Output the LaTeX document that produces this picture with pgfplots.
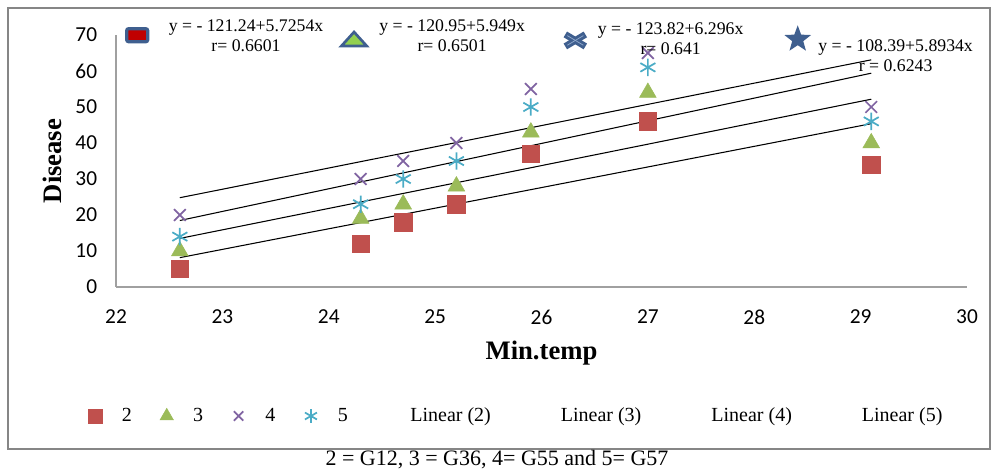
\documentclass[border=0pt]{standalone}
\usepackage{pgfplots}
\pgfplotsset{compat=1.18}
\usepackage{fontspec}
\setmainfont{Liberation Serif}
\newfontfamily\carlito{Carlito}
\usetikzlibrary{shapes.geometric}
\definecolor{c2}{HTML}{C0504D}
\definecolor{c3}{HTML}{9BBB59}
\definecolor{c4}{HTML}{8064A2}
\definecolor{c5}{HTML}{4BACC6}
\definecolor{iconblue}{HTML}{3F5F8F}
\definecolor{iconlight}{HTML}{8FA8CC}
\definecolor{iconred}{HTML}{C00000}
\definecolor{icongreen}{HTML}{92D050}
\definecolor{framegray}{HTML}{868686}
\definecolor{axisgray}{HTML}{A0A0A0}

\pgfplotstableread{
x    s2  s3  s4  s5
22.6  5  10  20  14
24.3 12  19  30  23
24.7 18  23  35  30
25.2 23  28  40  35
25.9 37  43  55  50
27.0 46  54  65  61
29.1 34  40  50  46
}\datatable

\pgfplotsset{
  marklegend/.style={legend image code/.code={%
    \path (0pt,0pt) (30pt,0pt);
    \draw[##1, every mark/.append style={scale=0.8}] plot coordinates {(10.5pt,0pt)};}},
}

\begin{document}
\begin{tikzpicture}
\path (0pt,0pt) rectangle (744.75pt,356.25pt);
\draw[framegray, line width=1.5pt] (6pt,19.5pt) rectangle (742.5pt,350.25pt);

\begin{axis}[
  at={(87pt,141pt)}, anchor=south west,
  scale only axis, width=638.25pt, height=189pt,
  xmin=22, xmax=30, ymin=0, ymax=70,
  xtick={22,23,...,30}, ytick={0,10,...,70},
  axis lines*=left,
  axis line style={axisgray, line width=0.8pt, -},
  major tick length=0pt,
  tick label style={font=\carlito\fontsize{16}{16}\selectfont},
  /pgf/number format/assume math mode=true,
  yticklabel style={inner xsep=0pt, xshift=-14pt},
  xticklabel style={inner ysep=0pt, yshift=-17pt},
  xlabel={\bfseries\fontsize{20}{20}\selectfont Min.temp},
  ylabel={\bfseries\fontsize{20}{20}\selectfont Disease},
  xlabel style={at={(axis description cs:0.5,-0.262)}, anchor=center},
  ylabel style={at={(axis description cs:-0.0752,0.5)}, anchor=center},
  clip=false,
  legend columns=8,
  legend cell align=left,
  legend style={draw=none, fill=none, inner sep=0pt, column sep=0pt,
    at={(-0.0411,-0.512)}, anchor=west,
    font=\fontsize{15}{15}\selectfont,
    nodes={inner sep=0pt}},
]
\addplot[only marks, mark=square*, mark size=6.5pt, color=c2, marklegend] table[x=x,y=s2] {\datatable};
\addlegendentry{\makebox[23pt][l]{2}}
\addplot[only marks, mark=triangle*, mark size=7.2pt, color=c3, marklegend] table[x=x,y=s3] {\datatable};
\addlegendentry{\makebox[23pt][l]{3}}
\addplot[only marks, mark=x, mark size=6.2pt, line width=1.3pt, color=c4, marklegend] table[x=x,y=s4] {\datatable};
\addlegendentry{\makebox[23pt][l]{4}}
\addplot[only marks, mark=asterisk, mark size=6.5pt, line width=1.3pt, color=c5, marklegend] table[x=x,y=s5] {\datatable};
\addlegendentry{\makebox[23pt][l]{5}}
\addlegendimage{legend image code/.code={\path (0pt,0pt) (31pt,0pt);}}
\addlegendentry{\makebox[81.5pt][l]{Linear (2)}}
\addlegendimage{legend image code/.code={\path (0pt,0pt) (31pt,0pt);}}
\addlegendentry{\makebox[81.5pt][l]{Linear (3)}}
\addlegendimage{legend image code/.code={\path (0pt,0pt) (31pt,0pt);}}
\addlegendentry{\makebox[81.5pt][l]{Linear (4)}}
\addlegendimage{legend image code/.code={\path (0pt,0pt) (31pt,0pt);}}
\addlegendentry{\makebox[81.5pt][l]{Linear (5)}}
% trend lines
\addplot[black, line width=0.8pt, forget plot] coordinates {(22.6,8.154) (29.1,45.369)};
\addplot[black, line width=0.8pt, forget plot] coordinates {(22.6,13.497) (29.1,52.166)};
\addplot[black, line width=0.8pt, forget plot] coordinates {(22.6,18.47) (29.1,59.394)};
\addplot[black, line width=0.8pt, forget plot] coordinates {(22.6,24.80) (29.1,63.108)};
\end{axis}

\begin{axis}[
  at={(87pt,141pt)}, anchor=south west,
  scale only axis, width=638.25pt, height=189pt,
  hide axis, xmin=0, xmax=1, ymin=0, ymax=1,
  legend columns=4,
  legend cell align=left,
  legend style={draw=none, fill=none, inner sep=0pt, column sep=0pt,
    at={(0.0094,0.988)}, anchor=west,
    font=\fontsize{13.3}{15}\selectfont,
    nodes={inner sep=0pt}},
]
\addlegendimage{legend image code/.code={%
  \path (0pt,0pt) (33pt,0pt);
  \filldraw[draw=iconblue, fill=iconred, line width=2.4pt, rounded corners=1.5pt] (9.5pt-7.9pt,2pt-4.9pt) rectangle (9.5pt+7.9pt,2pt+4.9pt);}}
\addlegendentry{\makebox[124.5pt][l]{\raisebox{-4pt}[0pt][0pt]{\begin{tabular}{@{}c@{}}y = - 121.24+5.7254x\\r= 0.6601\end{tabular}}}}
\addlegendimage{legend image code/.code={%
  \path (0pt,0pt) (33pt,0pt);
  \filldraw[draw=iconblue, fill=icongreen, line width=2pt, line join=miter] (14.25pt-9.5pt,-1.1pt-5pt) -- (14.25pt+9.5pt,-1.1pt-5pt) -- (14.25pt,-1.1pt+5.5pt) -- cycle;}}
\addlegendentry{\makebox[130.5pt][l]{\raisebox{-4pt}[0pt][0pt]{\begin{tabular}{@{}c@{}}y = - 120.95+5.949x\\r= 0.6501\end{tabular}}}}
\addlegendimage{legend image code/.code={%
  \path (0pt,0pt) (33pt,0pt);
  \draw[iconblue, line width=5pt] (16.3pt-7.5pt,-1.9pt-4.5pt) -- (16.3pt+7.5pt,-1.9pt+4.5pt);
  \draw[iconblue, line width=5pt] (16.3pt-7.5pt,-1.9pt+4.5pt) -- (16.3pt+7.5pt,-1.9pt-4.5pt);
  \draw[iconlight, line width=0.6pt] (16.3pt-6pt,-1.9pt-3.6pt) -- (16.3pt+6pt,-1.9pt+3.6pt);
  \draw[iconlight, line width=0.6pt] (16.3pt-6pt,-1.9pt+3.6pt) -- (16.3pt+6pt,-1.9pt-3.6pt);}}
\addlegendentry{\makebox[132pt][l]{\raisebox{-6.6pt}[0pt][0pt]{\begin{tabular}{@{}c@{}}y = - 123.82+6.296x\\r= 0.641\end{tabular}}}}
\addlegendimage{legend image code/.code={%
  \path (0pt,0pt) (33pt,0pt);
  \node[star, star points=5, star point ratio=2.4, fill=iconblue, draw=none, inner sep=0pt, minimum size=21pt] at (11.5pt,-1.1pt) {};}}
\addlegendentry{\makebox[120pt][l]{\raisebox{-19.4pt}[0pt][0pt]{\begin{tabular}{@{}c@{}}y = - 108.39+5.8934x\\r = 0.6243\end{tabular}}}}
\end{axis}

\node[font=\fontsize{16.5}{18}\selectfont] at (372.75pt,11.25pt) {2 = G12, 3 = G36, 4= G55 and 5= G57};
\end{tikzpicture}
\end{document}
